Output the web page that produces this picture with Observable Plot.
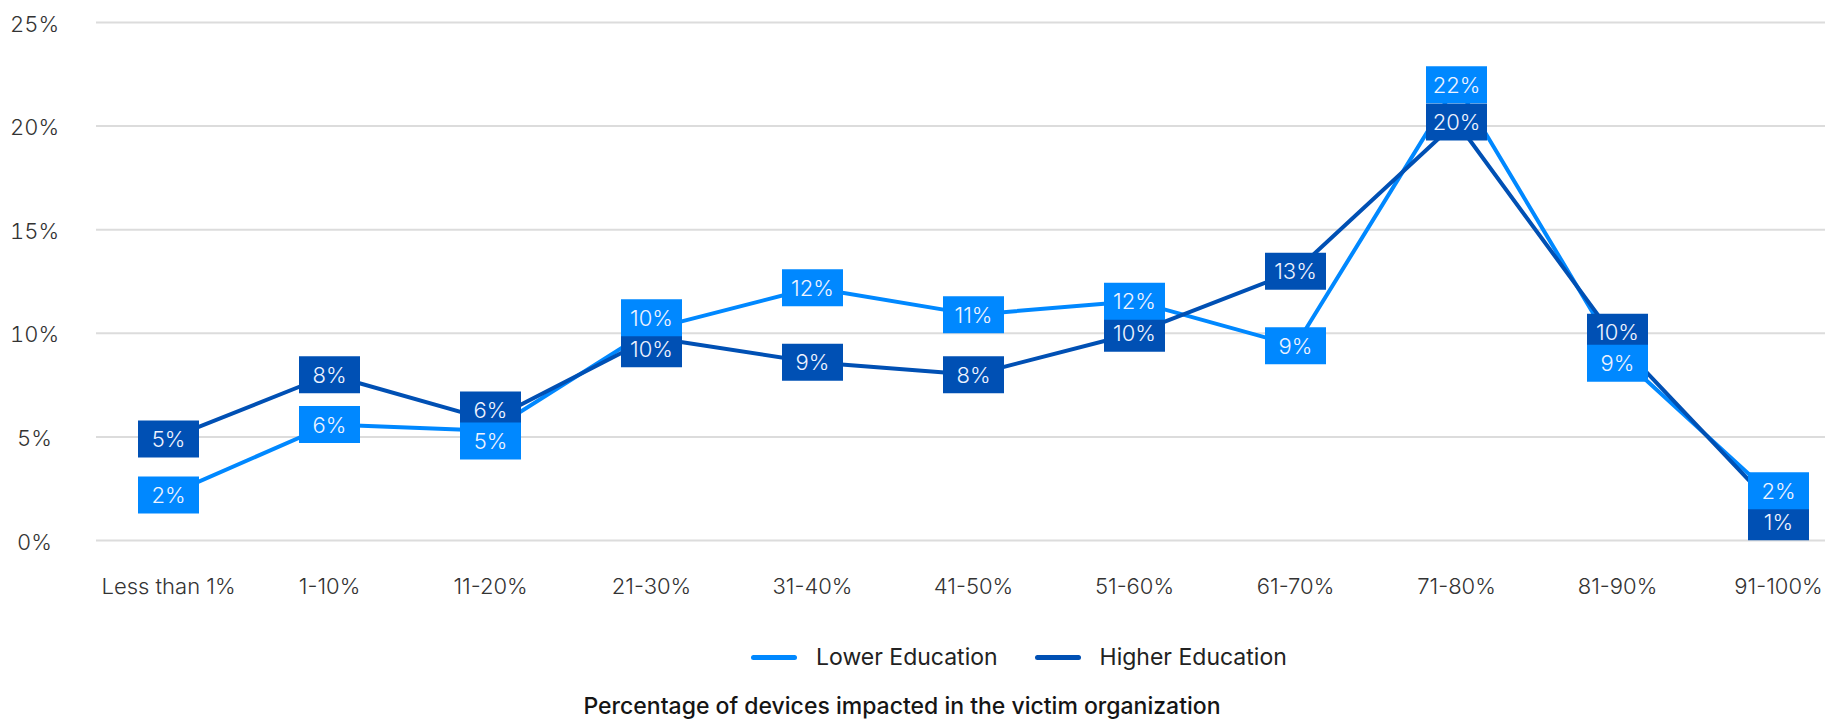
<!DOCTYPE html>
<html>
<head>
<meta charset="utf-8">
<script src="https://cdn.jsdelivr.net/npm/d3@7"></script>
<script src="https://cdn.jsdelivr.net/npm/@observablehq/plot@0.6"></script>
<style>
  html, body { margin: 0; padding: 0; background: #fff; overflow: hidden; }
  #chart { position: relative; width: 1825px; height: 720px; font-family: Inter, Roboto, sans-serif; }
  #plot { position: absolute; left: 0; top: 0; }
  #legend { position: absolute; left: 751px; top: 644px; display: flex; align-items: center; font-size: 23px; line-height: 26px; color: #222; }
  .item { display: flex; align-items: center; }
  .item + .item { margin-left: 37px; }
  .swatch { width: 46px; height: 5px; border-radius: 3px; margin-right: 19px; }
  #title { position: absolute; left: 0; width: 1804px; top: 694px; text-align: center; font-size: 23px; line-height: 24px; font-weight: 500; color: #151515; }
</style>
</head>
<body>
<div id="chart">
  <div id="plot"></div>
  <div id="legend"></div>
  <div id="title">Percentage of devices impacted in the victim organization</div>
</div>
<script>
// Share of organisations (%) by percentage of devices impacted
const categories = ["Less than 1%", "1-10%", "11-20%", "21-30%", "31-40%", "41-50%", "51-60%", "61-70%", "71-80%", "81-90%", "91-100%"];
const lowerEducation  = [2.2, 5.6, 5.3, 10.2, 12.2, 10.9, 11.55, 9.4, 22.0, 9.0, 1.9];
const higherEducation = [4.9, 8.0, 5.8, 9.8, 8.6, 8.0, 10.0, 13.0, 20.2, 9.6, 1.4];
const seriesNames = ["Lower Education", "Higher Education"];
const seriesColors = ["#0088ff", "#0050b4"];
const yTicks = [0, 5, 10, 15, 20, 25];

const pct = d => `${Math.round(d)}%`;

// Long-format rows for the lines
const rows = [];
categories.forEach((c, i) => {
  rows.push({cat: c, series: seriesNames[0], value: lowerEducation[i]});
  rows.push({cat: c, series: seriesNames[1], value: higherEducation[i]});
});

// Vertical scale shared by the plot and the label layout
const yOptions = {domain: [0, 25], range: [540, 22]};
const yScale = Plot.scale({y: yOptions});

// Value badges: when two badges in one column collide, push them apart
const minSep = 31;
const higherLabels = [], lowerLabels = [];
categories.forEach((c, i) => {
  const lo = lowerEducation[i], hi = higherEducation[i];
  let pl = yScale.apply(lo), ph = yScale.apply(hi);
  if (Math.abs(pl - ph) < minSep) {
    const mid = (pl + ph) / 2, s = lo <= hi ? 1 : -1;
    pl = mid + s * minSep / 2;
    ph = mid - s * minSep / 2;
  }
  lowerLabels.push({cat: c, series: seriesNames[0], value: lo, labelY: yScale.invert(pl)});
  higherLabels.push({cat: c, series: seriesNames[1], value: hi, labelY: yScale.invert(ph)});
});
const labels = [...higherLabels, ...lowerLabels];

// Rectangular badge drawn as a custom dot symbol
const badge = {draw(ctx) { ctx.rect(-30.5, -18.5, 61, 37); }};

const plot = Plot.plot({
  width: 1825,
  height: 610,
  marginLeft: 96,
  marginRight: 0,
  marginTop: 22,
  marginBottom: 70,
  style: {fontFamily: "Inter, Roboto, sans-serif", color: "#333", background: "#fff"},
  x: {type: "point", domain: categories, range: [166, 1780], padding: 0, label: null},
  y: {...yOptions, label: null},
  color: {domain: seriesNames, range: seriesColors},
  marks: [
    Plot.gridY(yTicks, {stroke: "#dcdcdc", strokeOpacity: 1, strokeWidth: 2}),
    Plot.axisY(yTicks, {tickSize: 0, tickPadding: 0, textAnchor: "middle", dx: -62, dy: 2, tickFormat: d => `${d}%`, fontSize: 22, fontWeight: 300, label: null}),
    Plot.axisX({tickSize: 0, tickPadding: 38, fontSize: 22, fontWeight: 300, label: null}),
    Plot.line(rows, {x: "cat", y: "value", z: "series", stroke: "series", strokeWidth: 4}),
    Plot.dot(labels, {x: "cat", y: "labelY", fill: "series", symbol: badge, r: 10, stroke: null}),
    Plot.text(labels, {x: "cat", y: "labelY", text: d => pct(d.value), fill: "#eef3ff", fontSize: 22, fontWeight: 300, dy: 1})
  ]
});
document.getElementById("plot").appendChild(plot);

// Legend
const legend = document.getElementById("legend");
seriesNames.forEach((name, i) => {
  const item = document.createElement("div");
  item.className = "item";
  const sw = document.createElement("span");
  sw.className = "swatch";
  sw.style.background = seriesColors[i];
  const label = document.createElement("span");
  label.textContent = name;
  item.append(sw, label);
  legend.appendChild(item);
});
</script>
</body>
</html>
